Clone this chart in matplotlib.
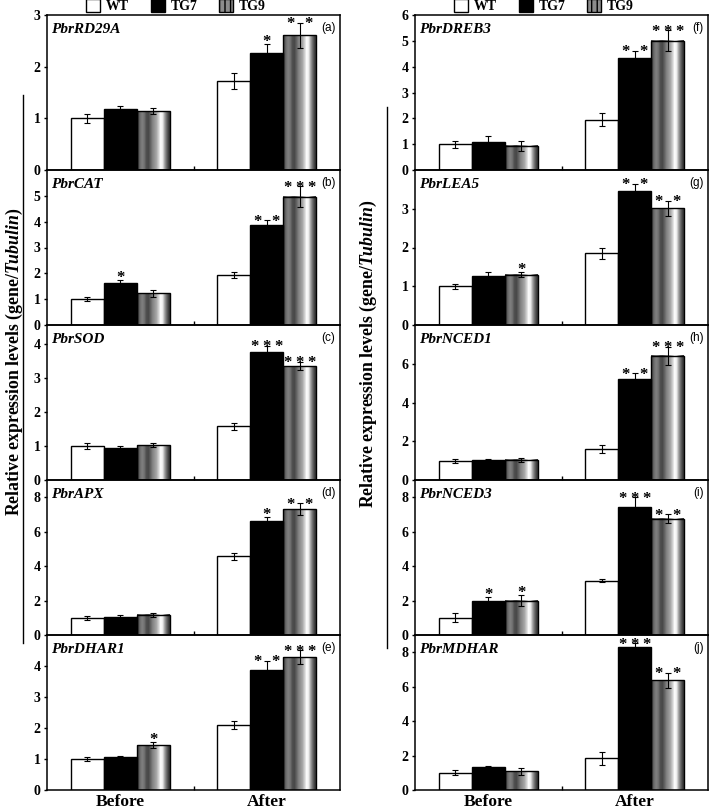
import numpy as np
import matplotlib
matplotlib.use("Agg")
import matplotlib.pyplot as plt
from matplotlib.patches import Patch
from matplotlib.lines import Line2D

plt.rcParams['font.family'] = ['Liberation Serif', 'DejaVu Serif']
plt.rcParams['font.weight'] = 'bold'
plt.rcParams['mathtext.fontset'] = 'custom'
plt.rcParams['mathtext.it'] = 'Liberation Serif:italic:bold'
plt.rcParams['mathtext.rm'] = 'Liberation Serif:bold'

groups = ["Before", "After"]
lines = ["WT", "TG7", "TG9"]

# values ordered: Before WT, TG7, TG9, After WT, TG7, TG9
rd29a_mean = [1.00, 1.18, 1.14, 1.72, 2.27, 2.61]
rd29a_err = [0.09, 0.06, 0.06, 0.16, 0.17, 0.24]
rd29a_sig = ["", "", "", "", "*", "**"]

cat_mean = [1.00, 1.61, 1.22, 1.93, 3.87, 4.97]
cat_err = [0.08, 0.13, 0.12, 0.11, 0.18, 0.40]
cat_sig = ["", "*", "", "", "**", "***"]

sod_mean = [0.99, 0.94, 1.03, 1.58, 3.78, 3.36]
sod_err = [0.09, 0.07, 0.05, 0.10, 0.17, 0.12]
sod_sig = ["", "", "", "", "***", "***"]

apx_mean = [1.00, 1.05, 1.17, 4.56, 6.60, 7.30]
apx_err = [0.12, 0.10, 0.10, 0.23, 0.27, 0.35]
apx_sig = ["", "", "", "", "*", "**"]

dhar1_mean = [1.00, 1.08, 1.44, 2.09, 3.86, 4.29]
dhar1_err = [0.07, 0.03, 0.10, 0.13, 0.30, 0.22]
dhar1_sig = ["", "", "*", "", "**", "***"]

dreb3_mean = [1.00, 1.10, 0.93, 1.94, 4.33, 5.00]
dreb3_err = [0.13, 0.20, 0.21, 0.25, 0.28, 0.41]
dreb3_sig = ["", "", "", "", "**", "***"]

lea5_mean = [1.00, 1.27, 1.30, 1.85, 3.45, 3.01]
lea5_err = [0.06, 0.09, 0.07, 0.15, 0.20, 0.20]
lea5_sig = ["", "", "*", "", "**", "**"]

nced1_mean = [1.00, 1.02, 1.05, 1.60, 5.23, 6.41]
nced1_err = [0.10, 0.05, 0.10, 0.20, 0.28, 0.45]
nced1_sig = ["", "", "", "", "**", "***"]

nced3_mean = [1.00, 1.95, 2.00, 3.16, 7.46, 6.75]
nced3_err = [0.26, 0.23, 0.33, 0.07, 0.53, 0.26]
nced3_sig = ["", "*", "*", "", "***", "**"]

mdhar_mean = [1.00, 1.31, 1.08, 1.83, 8.28, 6.36]
mdhar_err = [0.15, 0.10, 0.22, 0.36, 0.24, 0.45]
mdhar_sig = ["", "", "", "", "***", "**"]

# (name, tag, mean, err, sig, ylim, yticks)
left_panels = [
    ("PbrRD29A", "(a)", rd29a_mean, rd29a_err, rd29a_sig, 3, [0, 1, 2, 3]),
    ("PbrCAT", "(b)", cat_mean, cat_err, cat_sig, 6, [0, 1, 2, 3, 4, 5]),
    ("PbrSOD", "(c)", sod_mean, sod_err, sod_sig, 4.57, [0, 1, 2, 3, 4]),
    ("PbrAPX", "(d)", apx_mean, apx_err, apx_sig, 9, [0, 2, 4, 6, 8]),
    ("PbrDHAR1", "(e)", dhar1_mean, dhar1_err, dhar1_sig, 5, [0, 1, 2, 3, 4]),
]
right_panels = [
    ("PbrDREB3", "(f)", dreb3_mean, dreb3_err, dreb3_sig, 6, [0, 1, 2, 3, 4, 5, 6]),
    ("PbrLEA5", "(g)", lea5_mean, lea5_err, lea5_sig, 4, [0, 1, 2, 3]),
    ("PbrNCED1", "(h)", nced1_mean, nced1_err, nced1_sig, 8, [0, 2, 4, 6]),
    ("PbrNCED3", "(i)", nced3_mean, nced3_err, nced3_sig, 9, [0, 2, 4, 6, 8]),
    ("PbrMDHAR", "(j)", mdhar_mean, mdhar_err, mdhar_sig, 9, [0, 2, 4, 6, 8]),
]

centers = [1, 3]
width = 0.45
# cylinder-like shading of the TG9 bars
stripe = np.array([0.28, 0.42, 0.50, 0.45, 0.32, 0.28, 0.38, 0.50, 0.58,
                   0.66, 0.82, 1.00, 0.92, 0.62, 0.40, 0.22])


def draw_panel(ax, name, tag, mean, err, sig, ytop, yticks):
    xs = []
    for c in centers:
        for k in range(3):
            xs.append(c + (k - 1) * width)
    faces = ['white', 'black', 'none'] * 2
    ax.bar(xs, mean, width, color=faces, edgecolor='black', linewidth=1.0, zorder=2)
    for i in range(6):
        if i % 3 == 2:
            ax.imshow(stripe[np.newaxis, :], cmap='gray', vmin=0, vmax=1,
                      extent=[xs[i] - width / 2, xs[i] + width / 2, 0, mean[i]],
                      aspect='auto', interpolation='bilinear', zorder=1)
    ax.errorbar(xs, mean, yerr=err, fmt='none', ecolor='black', elinewidth=0.8,
                capsize=2.2, capthick=0.8, zorder=3)
    for i in range(6):
        n = len(sig[i])
        if n == 0:
            continue
        offs = {1: [0], 2: [-0.28, 0.28], 3: [-0.36, 0, 0.36]}[n]
        dy = 1.5 if n == 1 else -1.0
        for o in offs:
            ax.annotate("*", (xs[i] + o * width, mean[i] + err[i]), xytext=(0, dy),
                        textcoords='offset points', ha='center', va='center',
                        fontsize=12, fontweight='bold', annotation_clip=False, zorder=4)
    ax.set_xlim(0, 4)
    ax.set_ylim(0, ytop)
    ax.set_yticks(yticks)
    ax.tick_params(axis='y', direction='out', length=2.5, width=1, labelsize=10, pad=2)
    ax.set_xticks([1, 3])
    ax.set_xticklabels([])
    ax.tick_params(axis='x', length=0)
    ax.set_xticks([2], minor=True)
    ax.tick_params(axis='x', which='minor', direction='in', length=3, width=1)
    for s in ax.spines.values():
        s.set_linewidth(1.1)
    ax.set_facecolor('none')
    ax.text(0.012, 0.905, name, transform=ax.transAxes, fontsize=11,
            fontweight='bold', style='italic', ha='left', va='center')
    ax.text(0.985, 0.915, tag, transform=ax.transAxes, fontsize=8.5,
            fontweight='normal', family='Liberation Sans', ha='right', va='center')


fig = plt.figure(figsize=(7.09, 8.11), dpi=100)
W, H = 709.0, 811.0
top_px, bot_px = 15.0, 790.0
ph = (bot_px - top_px) / 5

for col, (panels, left_px) in enumerate([(left_panels, 47.0), (right_panels, 415.0)]):
    axes = []
    for r, p in enumerate(panels):
        y0 = 1 - (top_px + (r + 1) * ph) / H
        ax = fig.add_axes([left_px / W, y0, 293.0 / W, ph / H])
        draw_panel(ax, *p)
        axes.append(ax)
    axes[-1].set_xticklabels(groups, fontsize=12.5, fontweight='bold')
    axes[-1].tick_params(axis='x', pad=3)
    handles = [Patch(facecolor='white', edgecolor='black', linewidth=1),
               Patch(facecolor='black', edgecolor='black', linewidth=1),
               Patch(facecolor='0.55', edgecolor='black', linewidth=1, hatch='|||')]
    axes[0].legend(handles, lines, loc='lower center', bbox_to_anchor=(0.44, 0.975),
                   ncol=3, frameon=False, handlelength=1.0, handleheight=1.0,
                   columnspacing=1.6, handletextpad=0.4, borderaxespad=0,
                   prop={'family': 'Liberation Serif', 'weight': 'bold', 'size': 10})

for xc, yc in [(14, 362), (368, 354)]:
    fig.text(xc / W, 1 - yc / H,
             "Relative expression levels (gene/" + r"$\it{Tubulin}$" + ")",
             rotation=90, fontsize=12.8, fontweight='bold', ha='center', va='center')

fig.add_artist(Line2D([22.7 / W, 22.7 / W], [1 - 95 / H, 1 - 643 / H], color='black', lw=1))
fig.add_artist(Line2D([387 / W, 387 / W], [1 - 107 / H, 1 - 648 / H], color='black', lw=1))

fig.savefig("out.png", dpi=100)
